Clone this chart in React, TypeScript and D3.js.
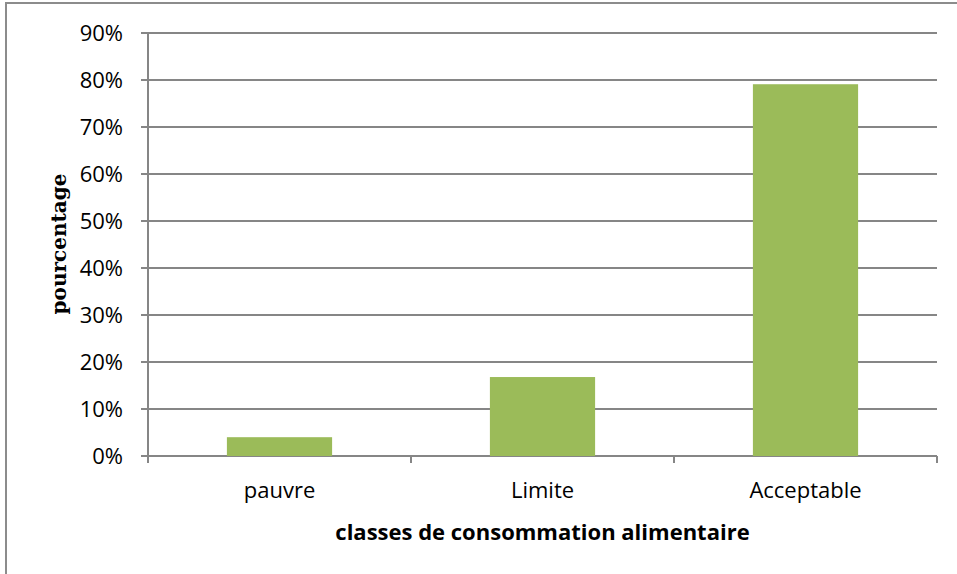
import React from "react"
import { scaleBand, scaleLinear } from "d3"

const categories = ["pauvre", "Limite", "Acceptable"]
const values = [0.04, 0.168, 0.791]
const yTicks = [0, 0.1, 0.2, 0.3, 0.4, 0.5, 0.6, 0.7, 0.8, 0.9]

const W = 957
const H = 574
const margin = { left: 148, right: 20, top: 33, bottom: 118 }

export default function App() {
  const x = scaleBand()
    .domain(categories)
    .range([margin.left, W - margin.right])
    .paddingInner(0.6)
    .paddingOuter(0.3)

  const y = scaleLinear()
    .domain([0, 0.9])
    .range([H - margin.bottom, margin.top])

  const x0 = margin.left
  const x1 = W - margin.right
  const yBase = y(0)
  const step = x.step()
  // limites des catégories (graduations de l'axe X)
  const edges = [0, 1, 2, 3].map((i) => x0 + i * step)

  return (
    <svg
      width={W}
      height={H}
      style={{ position: "absolute", left: 0, top: 0, background: "#fff" }}
      fontFamily="'Open Sans', sans-serif"
    >
      {/* cadre */}
      <rect x={6} y={3} width={W} height={H} fill="none" stroke="#8c8c8c" strokeWidth={2} />

      {/* lignes de grille */}
      {yTicks.map((t) => (
        <line key={t} x1={x0 - 7} x2={x1} y1={y(t)} y2={y(t)} stroke="#868686" strokeWidth={2} />
      ))}

      {/* barres */}
      {categories.map((c, i) => (
        <rect
          key={c}
          x={x(c)}
          y={y(values[i])}
          width={x.bandwidth()}
          height={yBase - y(values[i])}
          fill="#9BBB59"
        />
      ))}

      {/* axes */}
      <line x1={x0} x2={x0} y1={y(0.9)} y2={yBase + 7} stroke="#868686" strokeWidth={2} />
      {edges.map((ex, i) => (
        <line key={i} x1={ex} x2={ex} y1={yBase} y2={yBase + 7} stroke="#868686" strokeWidth={2} />
      ))}

      {/* étiquettes Y */}
      {yTicks.map((t) => (
        <text key={t} x={123} y={y(t)} dy="0.36em" textAnchor="end" fontSize={22} fill="#000">
          {Math.round(t * 100)}%
        </text>
      ))}

      {/* étiquettes X */}
      {categories.map((c) => (
        <text key={c} x={x(c)! + x.bandwidth() / 2} y={498} textAnchor="middle" fontSize={22} fill="#000">
          {c}
        </text>
      ))}

      <text x={(x0 + x1) / 2} y={540} textAnchor="middle" fontSize={22} fontWeight="bold" fill="#000">
        classes de consommation alimentaire
      </text>

      <text
        transform={`translate(66, 244) rotate(-90)`}
        textAnchor="middle"
        fontFamily="'DejaVu Serif', serif"
        fontSize={20}
        fontWeight="bold"
        fill="#000"
      >
        pourcentage
      </text>
    </svg>
  )
}
